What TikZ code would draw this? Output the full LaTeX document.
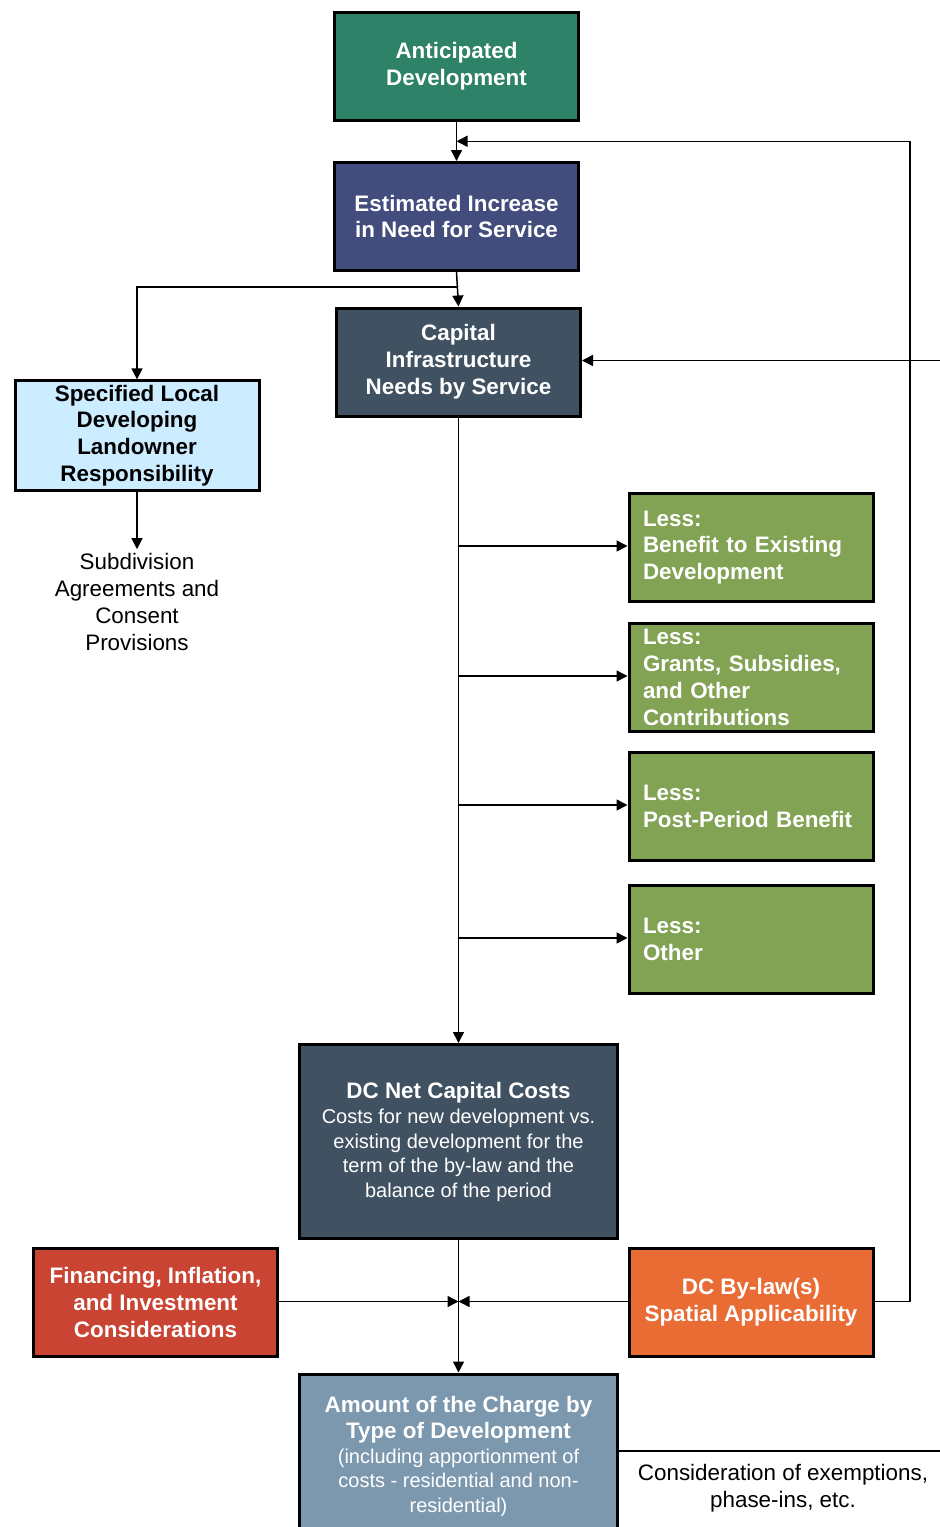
\documentclass[tikz,border=0pt]{standalone}
\usepackage{fontspec}
\setmainfont{Liberation Sans}
\usetikzlibrary{arrows.meta, calc}
\usepackage{xcolor}
\definecolor{devgreen}{RGB}{46,130,104}
\definecolor{needblue}{RGB}{66,76,125}
\definecolor{slate}{RGB}{64,82,98}
\definecolor{paleblue}{RGB}{204,236,255}
\definecolor{lessgreen}{RGB}{130,163,84}
\definecolor{finred}{RGB}{201,68,50}
\definecolor{laworange}{RGB}{233,108,52}
\definecolor{chargeblue}{RGB}{124,152,174}

\begin{document}
\begin{tikzpicture}[x=0.5pt, y=-0.5pt,
  box/.style={draw=black, line width=1.5pt, minimum width=122pt, minimum height=54pt,
    align=center, text=white, inner sep=2pt, font=\fontsize{11.2}{13.4}\selectfont\bfseries},
  lessbox/.style={box, fill=lessgreen, align=left, text width=108pt, inner xsep=7pt, inner ysep=0.5pt},
  note/.style={align=center, inner sep=2pt, font=\fontsize{11.2}{13.4}\selectfont},
  arr/.style={-{Triangle[length=5.5pt, width=5.5pt]}, line width=0.75pt},
  wire/.style={line width=0.75pt}]
  \useasboundingbox (0,0) rectangle (940,1527);

  % main column
  \node[box, fill=devgreen] (antdev) at (456.5,66) {Anticipated\\Development};
  \node[box, fill=needblue] (incneed) at (456.5,216.5) {Estimated Increase\\in Need for Service};
  \node[box, fill=slate] (capneeds) at (458.5,362) {Capital\\Infrastructure\\Needs by Service};

  % landowner branch
  \node[box, fill=paleblue, text=black] (landowner) at (137,435.5) {Specified Local\\Developing\\Landowner\\Responsibility};
  \node[note] (subdiv) at (137,602) {Subdivision\\Agreements and\\Consent\\Provisions};

  \node[box, fill=slate, minimum width=159pt, minimum height=97pt, font=\fontsize{10}{12.25}\selectfont] (netcost) at (458.5,1141.5)
    {{\fontsize{11.2}{13.4}\selectfont\bfseries DC Net Capital Costs}\\[0.5pt]
     Costs for new development vs.\\existing development for the\\term of the by-law and the\\balance of the period};

  \node[box, fill=finred] (finance) at (155.5,1302.5) {Financing, Inflation,\\and Investment\\Considerations};
  \node[box, fill=laworange] (bylaw) at (751,1302.5) {DC By-law(s)\\Spatial Applicability};

  \node[box, fill=chargeblue, anchor=north, minimum width=159pt, minimum height=82pt, font=\fontsize{10}{12.25}\selectfont] (charge) at (458.5,1372.5)
    {{\fontsize{11.2}{13.4}\selectfont\bfseries Amount of the Charge by}\\[1pt]
     {\fontsize{11.2}{13.4}\selectfont\bfseries Type of Development}\\
     (including apportionment of\\costs - residential and non-\\residential)};
  \node[note] (consid) at (783,1488) {Consideration of exemptions,\\phase-ins, etc.};

  \coordinate (split) at (456.5,287);
  \coordinate (rightin) at (940,360.5);
  \coordinate (fbturn) at (910,1301.5);
  \coordinate (rightout) at (940,1451);

  % deductions
  \foreach \n/\y/\txt in {
    1/547.5/{Less:\\Benefit to Existing\\Development},
    2/677.5/{Less:\\Grants, Subsidies,\\and Other\\Contributions},
    3/806.5/{Less:\\Post-Period Benefit},
    4/939.5/{Less:\\Other}
  }{
    \node[lessbox] (less\n) at (751,\y) {\txt};
    \draw[arr] (capneeds.south |- 0,\y-1.5) -- (less\n.west |- 0,\y-1.5);
  }

  \draw[arr] (antdev) -- (incneed);
  \draw[arr] (incneed.south) -- (capneeds.north);
  \draw[arr] (split) -| (landowner.north);
  \draw[arr] (rightin) -- (capneeds.east |- rightin);
  \draw[arr] (landowner) -- (subdiv);
  \draw[arr] (capneeds) -- (netcost);
  \draw[arr] (netcost) -- (charge);
  \draw[arr] (finance.east |- fbturn) -- (netcost |- fbturn);
  \draw[arr] (bylaw.west |- fbturn) -- (netcost |- fbturn);
  \draw[arr] (bylaw.east |- fbturn) -- (fbturn) |- ($(antdev.south)!0.5!(incneed.north)$);
  \draw[wire] (charge.east |- rightout) -- (rightout);
\end{tikzpicture}
\end{document}
